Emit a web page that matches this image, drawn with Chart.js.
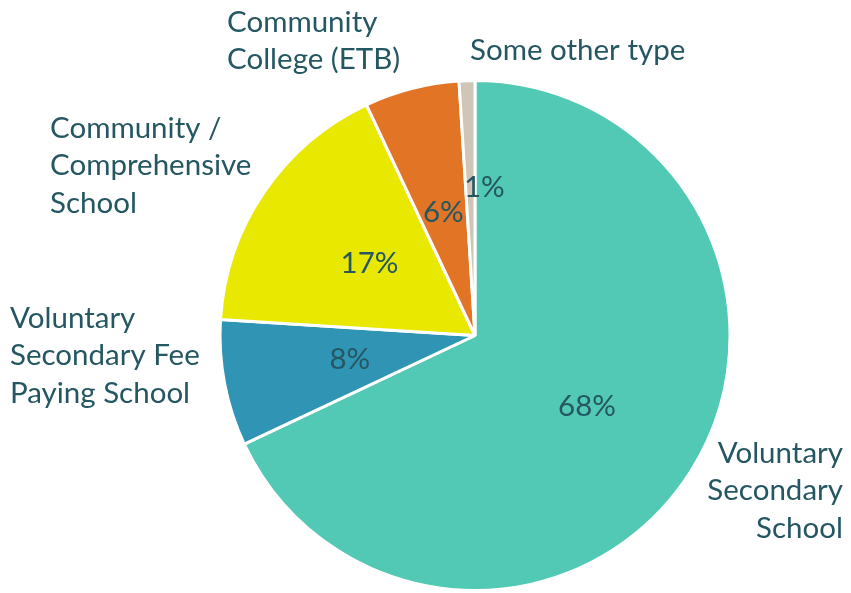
<!DOCTYPE html>
<html>
<head>
<meta charset="utf-8">
<script src="https://cdn.jsdelivr.net/npm/chart.js@4.4.1/dist/chart.umd.min.js"></script>
<style>
  html, body { margin: 0; padding: 0; background: #fff; }
  #wrap { width: 851px; height: 593px; }
</style>
</head>
<body>
<div id="wrap"><canvas id="schoolPie" width="851" height="593"></canvas></div>
<script>
// school types, clockwise from 12 o'clock
const categories = [
  ["Voluntary", "Secondary", "School"],
  ["Voluntary", "Secondary Fee", "Paying School"],
  ["Community /", "Comprehensive", "School"],
  ["Community", "College (ETB)"],
  ["Some other type"],
];
const shares = [68, 8, 17, 6, 1];
const sliceColors = ["#52c9b4", "#3095b4", "#e8e800", "#e27426", "#cfc6b8"];

const textColor = "#255762";
const fontFamily = "Lato, 'Open Sans', sans-serif";

// where each category name goes: x, y of first line, alignment
const nameSpots = [
  { x: 843, y: 453, align: "right" },
  { x: 10, y: 318, align: "left" },
  { x: 50, y: 128, align: "left" },
  { x: 227, y: 22, align: "left" },
  { x: 470, y: 50, align: "left" },
];
// radial distance (fraction of radius) and nudge for the % labels
const pctSpots = [
  { r: 0.52, dx: 0, dy: 0 },
  { r: 0.5, dx: 0, dy: 0 },
  { r: 0.5, dx: 0, dy: 0 },
  { r: 0.5, dx: 0, dy: 0 },
  { r: 0.58, dx: 14, dy: 0 },
];

const pieLabels = {
  id: "pieLabels",
  afterDatasetsDraw(chart) {
    const ctx = chart.ctx;
    const arcs = chart.getDatasetMeta(0).data;
    ctx.save();
    ctx.fillStyle = textColor;
    ctx.font = "29.5px " + fontFamily;
    ctx.textBaseline = "middle";

    arcs.forEach((arc, i) => {
      const p = arc.getProps(["x", "y", "startAngle", "endAngle", "outerRadius"], true);
      const mid = (p.startAngle + p.endAngle) / 2;
      const s = pctSpots[i];
      const rr = p.outerRadius * s.r;
      ctx.textAlign = "center";
      ctx.fillText(shares[i] + "%", p.x + Math.cos(mid) * rr + s.dx, p.y + Math.sin(mid) * rr + s.dy);
    });

    categories.forEach((lines, i) => {
      const spot = nameSpots[i];
      ctx.textAlign = spot.align;
      lines.forEach((line, k) => {
        ctx.fillText(line, spot.x, spot.y + k * 37.5);
      });
    });
    ctx.restore();
  },
};

new Chart(document.getElementById("schoolPie"), {
  type: "pie",
  data: {
    labels: categories.map((l) => l.join(" ")),
    datasets: [
      {
        data: shares,
        backgroundColor: sliceColors,
        borderColor: "#ffffff",
        borderWidth: 3,
      },
    ],
  },
  options: {
    responsive: false,
    animation: false,
    layout: { padding: { top: 79, bottom: 1, left: 218, right: 119 } },
    plugins: {
      legend: { display: false },
      tooltip: { enabled: false },
    },
  },
  plugins: [pieLabels],
});
</script>
</body>
</html>
